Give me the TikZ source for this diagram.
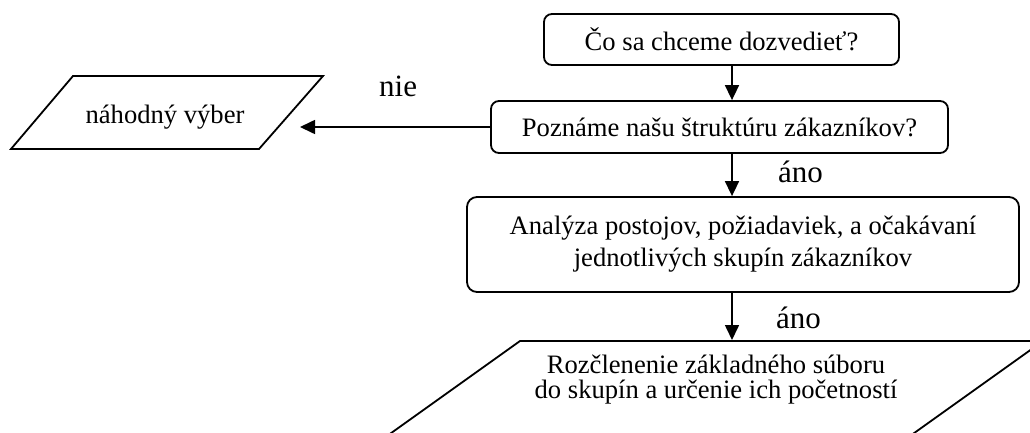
\documentclass[tikz,border=0pt]{standalone}
\usepackage{fontspec}
\setmainfont{Liberation Serif}
\usetikzlibrary{arrows.meta}
\begin{document}
\begin{tikzpicture}[x=1pt,y=-1pt,
  every node/.style={font=\fontsize{26.6}{32}\selectfont, inner sep=0pt},
  procbox/.style={draw, line width=1.8pt, rounded corners=8pt},
  shp/.style={draw, line width=1.8pt, line join=miter},
  arr/.style={line width=1.6pt, -{Triangle[length=15pt,width=14pt]}},
  lbl/.style={font=\fontsize{31}{36}\selectfont, anchor=base west}]
\fill[white, use as bounding box] (0,0) rectangle (1030,432);
\clip (0,0) rectangle (1030,432);
% process boxes
\node[procbox, minimum width=355pt, minimum height=51pt] (b1) at (721.5,39.5) {Čo sa chceme dozvedieť?};
\node[procbox, minimum width=457pt, minimum height=52pt] (b2) at (719.5,127) {Poznáme našu štruktúru zákazníkov?};
\node[procbox, rounded corners=10pt, minimum width=552pt, minimum height=95pt, align=center] (b3) at (743,244.5)
  {Analýza postojov, požiadaviek, a očakávaní\\jednotlivých skupín zákazníkov};
% left parallelogram
\coordinate (p1) at (73,76);
\coordinate (p2) at (323,76);
\coordinate (p3) at (259,149);
\coordinate (p4) at (11,149);
\draw[shp] (p1) -- (p2) -- (p3) -- (p4) -- cycle;
\node[anchor=base] (t1) at (165,123) {náhodný výber};
% bottom parallelogram
\coordinate (q1) at (520,341);
\coordinate (q2) at (1043,341);
\coordinate (q3) at (876.4,460);
\coordinate (q4) at (353.4,460);
\draw[shp] (q1) -- (q2) -- (q3) -- (q4) -- cycle;
\node[align=center, font=\fontsize{26.6}{25}\selectfont] (t2) at (716,380)
  {Rozčlenenie základného súboru\\do skupín a určenie ich početností};
% connectors
\coordinate (ax) at (732,0);
\coordinate (nietip) at (300,127);
\coordinate (qtop) at (732,340);
\draw[arr] (b1.south -| ax) -- (b2.north -| ax);
\draw[arr] (b2.south -| ax) -- (b3.north -| ax);
\draw[arr] (b3.south -| ax) -- (qtop);
\draw[arr] (b2.west) -- (nietip);
% labels
\node[lbl] (nie) at (379,96) {nie};
\node[lbl] (ano1) at (778,182) {áno};
\node[lbl] (ano2) at (776,328) {áno};
\end{tikzpicture}
\end{document}
